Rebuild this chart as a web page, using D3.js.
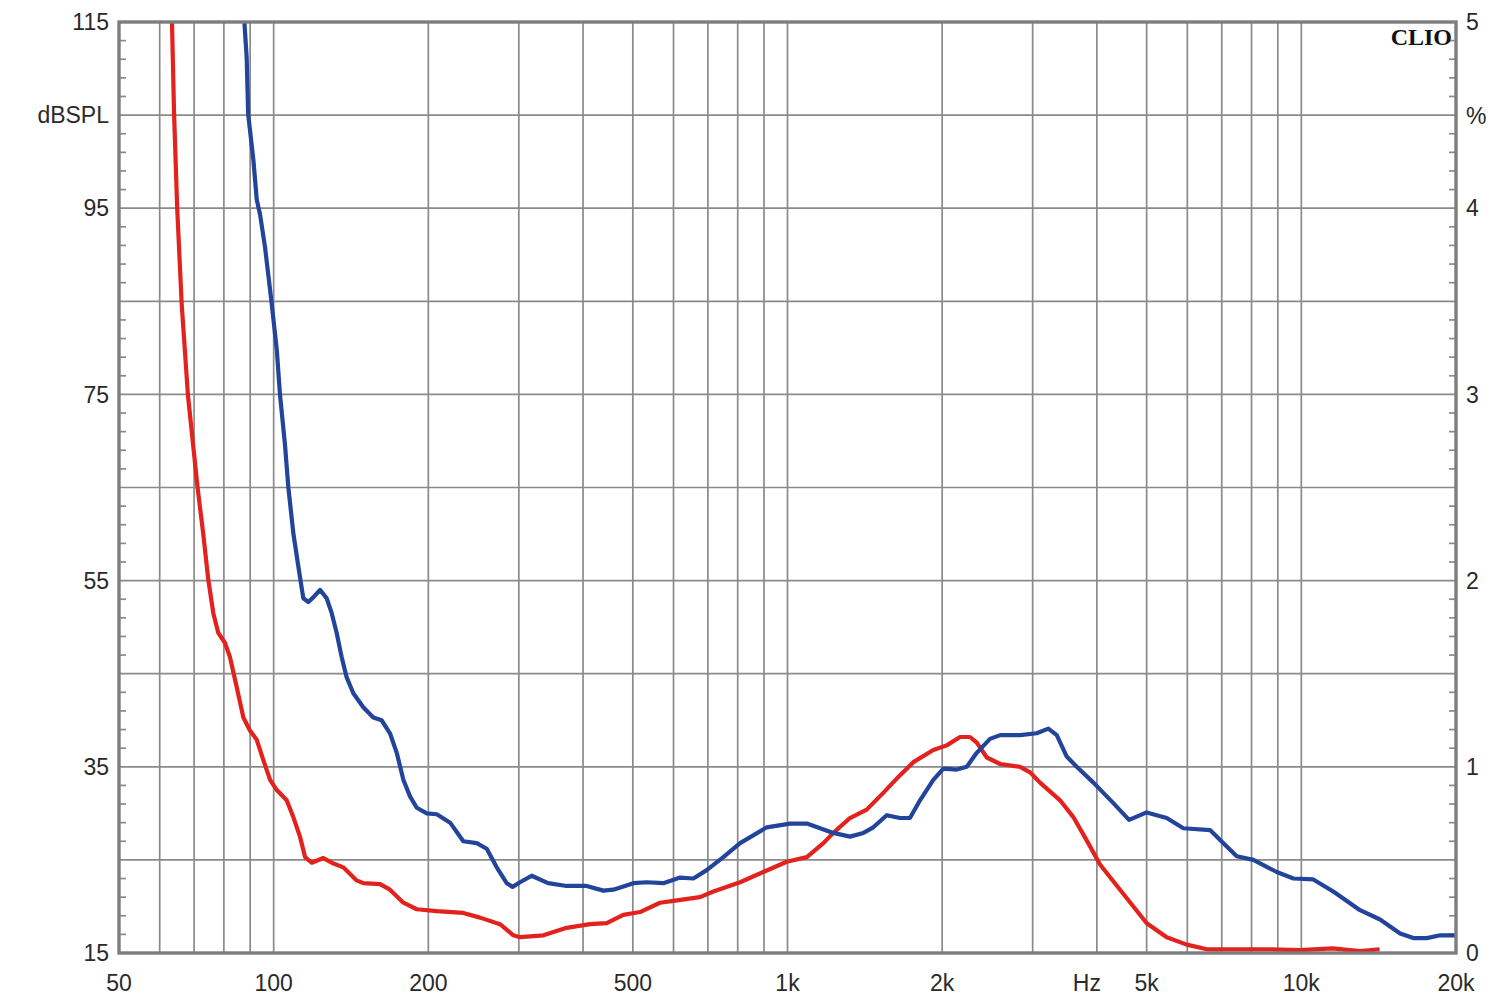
<!DOCTYPE html>
<html>
<head>
<meta charset="utf-8">
<script src="https://cdn.jsdelivr.net/npm/d3@7"></script>
<style>
html,body{margin:0;padding:0;background:#fff;}
</style>
</head>
<body>
<svg id="chart" width="1500" height="1004"></svg>
<script>
// ---- data (Hz, dB) ----
const redFreq = [63.4,64.0,64.9,66.2,68.1,71.1,72.9,74.6,76.3,78.0,80.4,82.2,84.7,87.3,89.9,92.7,95.5,98.4,101.4,106.0,109.2,112.5,115.1,118.6,124.9,129.7,136.6,145.0,149.4,161.1,168.4,178.8,189.9,207.7,233.9,252.1,275.7,292.7,301.6,334.9,371.7,412.7,444.8,479.1,516.3,564.9,599.6,675.6,717.4,808.6,897.4,996.7,1090.6,1174.6,1228,1323,1426,1536,1656,1758,1922,2041,2167,2266,2335,2443,2593,2836,2966,3101,3392,3600,3822,4057,4438,5002,5470,5984,6545,8566,9943,11500,13000,14200];
const redDb = [115,105.1,95.0,84.8,74.9,65.0,60.1,55.1,51.5,49.4,48.3,46.8,43.6,40.3,38.9,37.9,35.7,33.6,32.5,31.4,29.6,27.5,25.3,24.7,25.2,24.7,24.2,22.8,22.5,22.4,21.8,20.4,19.7,19.5,19.3,18.8,18.1,16.9,16.7,16.9,17.7,18.1,18.2,19.1,19.4,20.4,20.6,21.0,21.6,22.6,23.7,24.8,25.3,26.8,27.9,29.5,30.4,32.2,34.1,35.5,36.8,37.3,38.2,38.2,37.6,36.0,35.3,35.0,34.4,33.3,31.4,29.6,27.1,24.5,21.8,18.2,16.7,15.9,15.4,15.4,15.3,15.5,15.2,15.4];

const blueFreq = [87.7,88.6,89.2,91.3,92.7,94.1,96.2,99.1,101.4,102.9,105.2,106.8,109.2,111.7,114.2,116.8,119.4,123.1,126.8,129.7,132.6,135.6,138.7,142.9,149.4,156.3,162.2,168.4,173.6,178.8,184.3,189.9,198.6,207.7,220.5,233.9,248.4,259.8,271.7,284.1,291.7,301.6,317.8,342.0,371.7,406.6,438.0,458.1,501.2,532.1,573.4,617.9,655.9,696.2,750.1,808.6,911.1,1011,1091,1157,1228,1323,1405,1469,1560,1656,1731,1811,1922,2011,2135,2233,2335,2478,2593,2836,3055,3219,3342,3495,3655,3939,4307,4621,5002,5470,5894,6643,7053,7488,8068,8958,9652,10550,11540,13010,14230,15570,16520,17550,18630,20000];
const blueDb = [115,111.2,105.1,100.2,95.9,94.3,90.8,84.8,79.8,74.9,69.6,65.0,60.1,56.5,53.1,52.7,53.2,54.0,53.1,51.5,49.4,46.8,44.6,42.9,41.4,40.3,40.0,38.6,36.5,33.6,31.8,30.6,30.0,29.9,29.0,27.0,26.8,26.2,24.2,22.5,22.1,22.6,23.3,22.5,22.2,22.2,21.7,21.8,22.5,22.6,22.5,23.1,23.0,23.9,25.3,26.8,28.5,28.9,28.9,28.4,27.9,27.5,27.9,28.5,29.8,29.5,29.5,31.4,33.6,34.8,34.7,35.0,36.5,38.0,38.4,38.4,38.6,39.1,38.4,36.1,35.0,33.3,31.1,29.3,30.1,29.5,28.4,28.2,26.8,25.4,25.0,23.7,23.0,22.9,21.6,19.6,18.6,17.1,16.6,16.6,16.9,16.9];

const xGridFreqs = [60,70,80,90,100,200,300,400,500,600,700,800,900,1000,2000,3000,4000,5000,6000,7000,8000,9000,10000];
const xLabels = [[50,"50"],[100,"100"],[200,"200"],[500,"500"],[1000,"1k"],[2000,"2k"],[5000,"5k"],[10000,"10k"],[20000,"20k"]];
const yGrid = [25,35,45,55,65,75,85,95,105];
const yLabels = [[115,"115"],[105,"dBSPL"],[95,"95"],[75,"75"],[55,"55"],[35,"35"],[15,"15"]];
const rLabels = [[5,"5"],[4.5,"%"],[4,"4"],[3,"3"],[2,"2"],[1,"1"],[0,"0"]];

// ---- layout ----
const L = 119, R = 1456, T = 22, B = 953;
const svg = d3.select("#chart");
const x = d3.scaleLog().domain([50,20000]).range([L,R]);
const y = d3.scaleLinear().domain([15,115]).range([B,T]);
const yr = d3.scaleLinear().domain([0,5]).range([B,T]);

const gridColor = "#8a8a8a";
svg.append("g").selectAll("line").data(xGridFreqs).join("line")
  .attr("x1",d=>x(d)).attr("x2",d=>x(d)).attr("y1",T).attr("y2",B)
  .attr("stroke",gridColor).attr("stroke-width",1.7);
svg.append("g").selectAll("line").data(yGrid).join("line")
  .attr("x1",L).attr("x2",R).attr("y1",d=>y(d)).attr("y2",d=>y(d))
  .attr("stroke",gridColor).attr("stroke-width",1.7);

const minor = d3.range(17,115,2).filter(v=>(v-15)%10!==0);
svg.append("g").selectAll("line").data(minor).join("line")
  .attr("x1",L).attr("x2",L+7).attr("y1",d=>y(d)).attr("y2",d=>y(d))
  .attr("stroke",gridColor).attr("stroke-width",1.7);
svg.append("g").selectAll("line").data(minor).join("line")
  .attr("x1",R-7).attr("x2",R).attr("y1",d=>y(d)).attr("y2",d=>y(d))
  .attr("stroke",gridColor).attr("stroke-width",1.7);

svg.append("clipPath").attr("id","clip").append("rect")
  .attr("x",L).attr("y",T).attr("width",R-L).attr("height",B-T);
const line = d3.line().x(d=>x(d[0])).y(d=>y(d[1]));
const redPts = redFreq.map((f,i)=>[f,redDb[i]]);
const bluePts = blueFreq.map((f,i)=>[f,blueDb[i]]);
svg.append("path").attr("d",line(redPts)).attr("fill","none")
  .attr("stroke","#e3221d").attr("stroke-width",4.2).attr("stroke-linejoin","round")
  .attr("clip-path","url(#clip)");
svg.append("path").attr("d",line(bluePts)).attr("fill","none")
  .attr("stroke","#22449b").attr("stroke-width",4.2).attr("stroke-linejoin","round")
  .attr("clip-path","url(#clip)");

svg.append("rect").attr("x",L).attr("y",T).attr("width",R-L).attr("height",B-T)
  .attr("fill","none").attr("stroke","#7d7d7d").attr("stroke-width",3.4);

const fs = 23, sans = "'Liberation Sans',Arial,sans-serif", tc = "#2a2a2a";
svg.append("g").selectAll("text").data(yLabels).join("text")
  .attr("x",109).attr("y",d=>y(d[0])).attr("dy","0.36em")
  .attr("text-anchor","end").style("font-family",sans).style("font-size",fs+"px").attr("fill",tc).text(d=>d[1]);
svg.append("g").selectAll("text").data(rLabels).join("text")
  .attr("x",1466).attr("y",d=>yr(d[0])).attr("dy",d=>d[1]==="%"?"0.4em":"0.36em")
  .attr("text-anchor","start").style("font-family",sans).style("font-size",fs+"px").attr("fill",tc).text(d=>d[1]);
svg.append("g").selectAll("text").data(xLabels).join("text")
  .attr("x",d=>x(d[0])).attr("y",983).attr("dy","0.36em")
  .attr("text-anchor","middle").style("font-family",sans).style("font-size",fs+"px").attr("fill",tc).text(d=>d[1]);
svg.append("text").attr("x",x(4000)-10).attr("y",983).attr("dy","0.36em")
  .attr("text-anchor","middle").style("font-family",sans).style("font-size",fs+"px").attr("fill",tc).text("Hz");
svg.append("text").attr("x",1452).attr("y",45)
  .attr("text-anchor","end").style("font-size","24px").style("font-weight","bold")
  .style("font-family","'Liberation Serif','Times New Roman',serif").attr("fill","#111").text("CLIO");
</script>
</body>
</html>
